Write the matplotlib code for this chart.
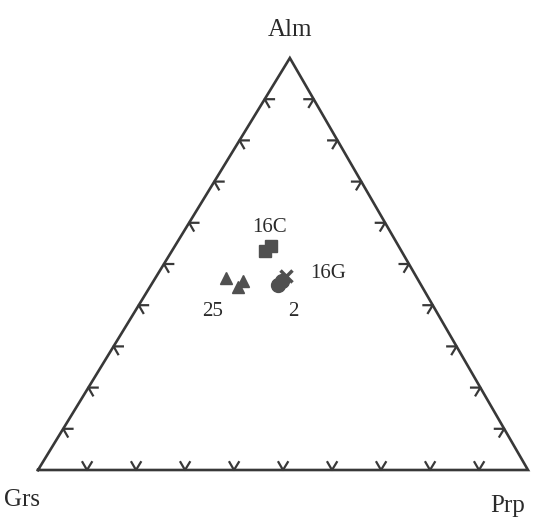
import numpy as np
import matplotlib.pyplot as plt

# --------------------------------------------------------------------------------
# Compositions des grenats (fractions Alm, Prp)
# --------------------------------------------------------------------------------
sommets = ['Alm', 'Grs', 'Prp']

# Echantillon 16C (carrés)
alm_16c = [0.532, 0.544]
prp_16c = [0.190, 0.196]

# Echantillon 25 (triangles)
alm_25 = [0.466, 0.444, 0.459]
prp_25 = [0.144, 0.180, 0.182]

# Echantillon 2 (cercles)
alm_2 = [0.449, 0.459]
prp_2 = [0.259, 0.262]

# Echantillon 16G (croix)
alm_16g = [0.471]
prp_16g = [0.264]

graduations = np.arange(0.1, 1.0, 0.1)

couleur_trait = '#383838'
couleur_point = '#505050'

# position horizontale du sommet Alm (le triangle de la figure n'est pas symétrique)
a = 0.514


# --------------------------------------------------------------------------------
# Passage des coordonnées ternaires (Alm, Prp) en coordonnées cartésiennes
# --------------------------------------------------------------------------------
def ternaire_vers_xy(alm, prp):
    alm = np.asarray(alm)
    prp = np.asarray(prp)
    return prp + a * alm, alm


fig = plt.figure(figsize=(5.55, 5.22), dpi=100)
ax = fig.add_axes([38 / 555, 52 / 522, 490 / 555, 412 / 522])
ax.set_xlim(0, 1)
ax.set_ylim(0, 1)
ax.axis('off')

# Contour du triangle
ax.plot([0, 1, a, 0], [0, 0, 1, 0], color=couleur_trait, lw=1.9,
        clip_on=False, solid_joinstyle='miter')

# Graduations tous les 10 %
t = 0.019
for g in graduations:
    # côté inférieur (Grs - Prp)
    px, py = ternaire_vers_xy(0, g)
    ax.plot([px + a * t, px, px + (a - 1) * t], [py + t, py, py + t],
            color=couleur_trait, lw=1.6, clip_on=False)
    # côté gauche (Grs - Alm)
    px, py = ternaire_vers_xy(g, 0)
    ax.plot([px + t, px, px + (1 - a) * t], [py, py, py - t],
            color=couleur_trait, lw=1.6, clip_on=False)
    # côté droit (Prp - Alm)
    px, py = ternaire_vers_xy(g, 1 - g)
    ax.plot([px - t, px, px - a * t], [py, py, py - t],
            color=couleur_trait, lw=1.6, clip_on=False)

# Points de mesure
x, y = ternaire_vers_xy(alm_16c, prp_16c)
ax.plot(x, y, 's', ms=9, color=couleur_point, mec=couleur_point)
x, y = ternaire_vers_xy(alm_25, prp_25)
ax.plot(x, y, '^', ms=9, color=couleur_point, mec=couleur_point)
x, y = ternaire_vers_xy(alm_2, prp_2)
ax.plot(x, y, 'o', ms=10, color=couleur_point, mec=couleur_point)
x, y = ternaire_vers_xy(alm_16g, prp_16g)
ax.plot(x, y, 'x', ms=8, mew=2.5, color=couleur_point)

# Etiquettes
police = dict(family='Liberation Serif', color='#2a2a2a')
fig.text(290 / 555, 1 - 30 / 522, 'Alm', ha='center', va='center', fontsize=18, **police)
fig.text(22 / 555, 1 - 500 / 522, 'Grs', ha='center', va='center', fontsize=18, **police)
fig.text(508 / 555, 1 - 506 / 522, 'Prp', ha='center', va='center', fontsize=18, **police)
fig.text(269 / 555, 1 - 227 / 522, '16C', ha='center', va='center', fontsize=15, **police)
fig.text(328 / 555, 1 - 273 / 522, '16G', ha='center', va='center', fontsize=15, **police)
fig.text(213 / 555, 1 - 312 / 522, '25', ha='center', va='center', fontsize=15, **police)
fig.text(293 / 555, 1 - 312 / 522, '2', ha='center', va='center', fontsize=15, **police)

fig.savefig('out.png', dpi=100, facecolor='white')
